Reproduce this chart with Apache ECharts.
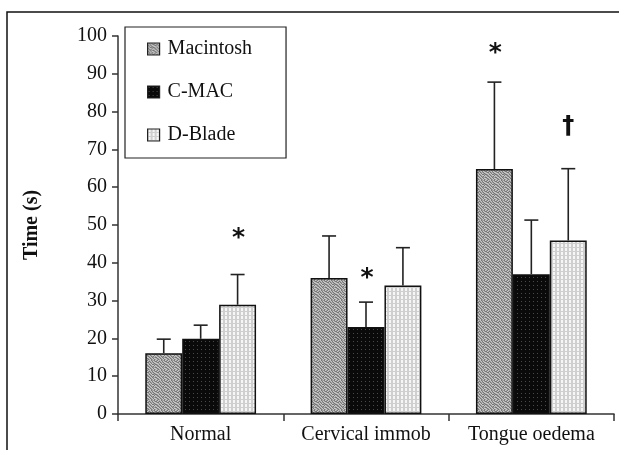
<!DOCTYPE html>
<html><head><meta charset="utf-8">
<script src="https://cdn.jsdelivr.net/npm/echarts@6/dist/echarts.min.js"></script>
<style>html,body{margin:0;padding:0;background:#fff}#c{width:619px;height:450px}</style>
</head><body><div id="c"></div>
<script>
const categories = ['Normal', 'Cervical immob', 'Tongue oedema'];
const seriesNames = ['Macintosh', 'C-MAC', 'D-Blade'];
const macintosh = [16.1, 36, 64.8];
const macintoshSD = [3.7, 11.1, 23];
const cmac = [19.9, 23, 37];
const cmacSD = [3.6, 6.6, 14.3];
const dblade = [28.9, 34, 45.9];
const dbladeSD = [8, 10, 19];
// significance marks: [category index, series index, symbol, height in axis units]
const marks = [[0, 2, '*', 48], [1, 1, '*', 37.5], [2, 0, '*', 97], [2, 2, '†', 76]];
const yTicks = { min: 0, max: 100, interval: 10 };

const FONT = 'Liberation Serif';

function makePattern(w, h, draw) {
  const cv = document.createElement('canvas');
  cv.width = w; cv.height = h;
  const ctx = cv.getContext('2d');
  draw(ctx);
  return { image: cv, repeat: 'repeat' };
}
// deterministic speckle texture
const speck = [
 2,0,1,1,0,2,1,0,2,1,
 1,2,0,2,1,0,0,2,1,0,
 0,1,1,0,2,2,1,0,0,2,
 2,0,2,1,0,1,2,2,1,1,
 1,2,0,0,1,0,0,1,2,0,
 0,1,2,2,0,2,1,0,1,2,
 2,0,1,0,2,1,2,1,0,1,
 1,2,0,1,1,0,0,2,2,0,
 0,1,2,0,2,2,1,0,1,2,
 2,0,1,2,0,1,2,1,0,1];
const patMac = makePattern(10, 10, ctx => {
  const cols = ['#767676', '#a2a2a2', '#c8c8c8'];
  for (let i = 0; i < 100; i++) { ctx.fillStyle = cols[speck[i]]; ctx.fillRect(i % 10, Math.floor(i / 10), 1, 1); }
});
const patCmac = makePattern(4, 4, ctx => {
  ctx.fillStyle = '#0a0a0a'; ctx.fillRect(0, 0, 4, 4);
  ctx.fillStyle = '#4a4a4a'; ctx.fillRect(1, 1, 1, 1);
});
const patDblade = makePattern(4, 4, ctx => {
  ctx.fillStyle = '#cfcfcf'; ctx.fillRect(0, 0, 4, 4);
  ctx.fillStyle = '#f6f6f6'; ctx.fillRect(1, 0, 2, 3);
});
const patterns = [patMac, patCmac, patDblade];
const values = [macintosh, cmac, dblade];
const sds = [macintoshSD, cmacSD, dbladeSD];

const GAP = 0.33;
function barCenter(api, cat, s) {
  const band = api.size([1, 0])[0];
  const bw = band * (1 - GAP) / 3;
  const c = api.coord([cat, 0])[0];
  return c + (s - 1) * bw;
}

const errData = [];
for (let s = 0; s < 3; s++) for (let c = 0; c < 3; c++) errData.push([c, s, values[s][c], values[s][c] + sds[s][c]]);

const chart = echarts.init(document.getElementById('c'), null, { renderer: 'canvas' });
const barSeries = seriesNames.map((n, s) => ({
  name: n, type: 'bar', data: values[s], barGap: 0, barCategoryGap: '33%',
  itemStyle: { color: patterns[s], borderColor: '#111', borderWidth: 1.5 },
  emphasis: { disabled: true }, z: 2
}));

chart.setOption({
  animation: false,
  textStyle: { fontFamily: FONT },
  graphic: [{ type: 'rect', shape: { x: 7, y: 12, width: 700, height: 600 }, style: { fill: 'none', stroke: '#111', lineWidth: 1.5 }, z: -1 }],
  grid: { left: 118, right: 5, top: 36, bottom: 36 },
  legend: {
    data: seriesNames, orient: 'vertical', left: 125, top: 27, icon: 'rect',
    padding: [12, 34, 13, 22], itemGap: 23, itemWidth: 12, itemHeight: 12,
    borderColor: '#222', borderWidth: 1.2, backgroundColor: '#fff',
    textStyle: { fontFamily: FONT, fontSize: 20, color: '#111', lineHeight: 20, padding: [0, 0, 0, 3] },
    itemStyle: { borderColor: '#222', borderWidth: 1.2 }
  },
  xAxis: {
    type: 'category', data: categories,
    axisLine: { lineStyle: { color: '#333', width: 1.5 } },
    axisTick: { show: true, interval: 0, length: 7, lineStyle: { color: '#333', width: 1.5 } },
    axisLabel: { interval: 0, fontFamily: FONT, fontSize: 20, color: '#111', margin: 11 }
  },
  yAxis: {
    type: 'value', min: yTicks.min, max: yTicks.max, interval: yTicks.interval,
    name: 'Time (s)', nameLocation: 'middle', nameGap: 76,
    nameTextStyle: { fontFamily: FONT, fontSize: 20, fontWeight: 'bold', color: '#111' },
    axisLine: { show: true, lineStyle: { color: '#333', width: 1.5 } },
    axisTick: { show: true, length: 6, lineStyle: { color: '#333', width: 1.5 } },
    splitLine: { show: false },
    axisLabel: { fontFamily: FONT, fontSize: 20, color: '#111', margin: 11 }
  },
  series: barSeries.concat([
    {
      type: 'custom', name: 'err', data: errData, z: 3, silent: true,
      encode: { x: 0, y: 3 },
      renderItem: (params, api) => {
        const cat = api.value(0), s = api.value(1);
        const x = barCenter(api, cat, s);
        const y0 = api.coord([cat, api.value(2)])[1];
        const y1 = api.coord([cat, api.value(3)])[1];
        const st = { stroke: '#222', lineWidth: 1.6 };
        return { type: 'group', children: [
          { type: 'line', shape: { x1: x, y1: y0, x2: x, y2: y1 }, style: st },
          { type: 'line', shape: { x1: x - 7, y1: y1, x2: x + 7, y2: y1 }, style: st }
        ] };
      }
    },
    {
      type: 'custom', name: 'marks', data: marks, z: 4, silent: true,
      encode: { x: 0, y: 3 },
      renderItem: (params, api) => {
        const m = marks[params.dataIndex];
        const x = barCenter(api, m[0], m[1]);
        const y = api.coord([m[0], m[3]])[1];
        const isStar = m[2] === '*';
        return { type: 'text', x: x + (isStar ? 1 : 0), y: y + (isStar ? 6 : 0), style: {
          text: m[2], fontFamily: 'DejaVu Sans', fontWeight: 'bold',
          fontSize: isStar ? 25 : 24, fill: '#111', align: 'center', verticalAlign: 'middle' } };
      }
    }
  ])
});
</script></body></html>
